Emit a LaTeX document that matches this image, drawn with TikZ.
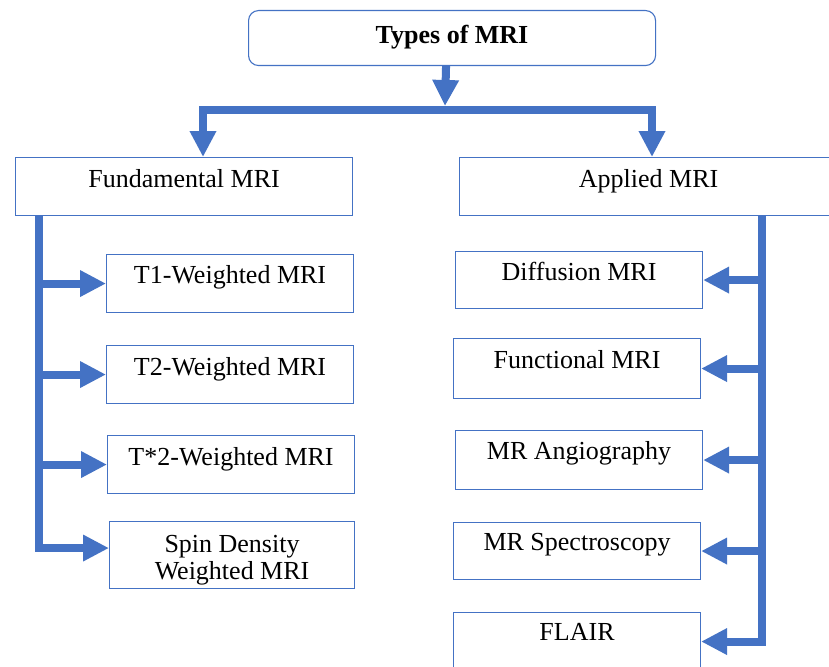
\documentclass[tikz,border=0pt]{standalone}
\usepackage{fontspec}
\setmainfont{Liberation Serif}
\usetikzlibrary{arrows.meta,calc}
\definecolor{mriblue}{HTML}{4472C4}
\begin{document}
\begin{tikzpicture}[x=1pt,y=-1pt,
  box/.style={draw=mriblue, line width=1.1pt, fill=white, inner sep=0pt,
    anchor=north west, font=\fontsize{26}{27}\selectfont, text=black},
  trunk/.style={draw=mriblue, line width=8pt, line join=miter},
  arr/.style={trunk, -{Triangle[length=26pt,width=25pt]}}
]
\clip (0,0) rectangle (829,666);
\fill[white] (0,0) rectangle (829,666);

% root
\node[box, rounded corners=10pt, minimum width=407pt, text height=33pt, text depth=22pt,
  font=\fontsize{26}{27}\selectfont\bfseries] (root) at (248,10) {Types of MRI};

% two main groups
\node[box, minimum width=337pt, text height=30pt, text depth=28pt] (fund) at (15,157) {Fundamental MRI};
\node[box, minimum width=378pt, text height=30pt, text depth=28pt] (appl) at (459,157) {Applied MRI};

% fundamental sequences
\node[box, minimum width=247pt, text height=29pt, text depth=29pt] (t1) at (106,254) {T1-Weighted MRI};
\node[box, minimum width=247pt, text height=30pt, text depth=28pt] (t2) at (106,345) {T2-Weighted MRI};
\node[box, minimum width=247pt, text height=30pt, text depth=28pt] (t2s) at (107,435) {T*2-Weighted MRI};
% two-line label: baseline sits on the last line
\node[box, minimum width=245pt, text height=58pt, text depth=9pt, align=center] (spin) at (109,521) {Spin Density\\[0pt]Weighted MRI};

% applied techniques
\node[box, minimum width=247pt, text height=29pt, text depth=28pt] (diff) at (455,251) {Diffusion MRI};
\node[box, minimum width=247pt, text height=30pt, text depth=30pt] (func) at (453,338) {Functional MRI};
\node[box, minimum width=247pt, text height=29pt, text depth=30pt] (angio) at (455,430) {MR Angiography};
\node[box, minimum width=247pt, text height=28pt, text depth=29pt] (spec) at (453,522) {MR Spectroscopy};
\node[box, minimum width=247pt, text height=28pt, text depth=30pt] (flair) at (453,612) {FLAIR};

% branching bar under the root
\coordinate (rootout) at ($(root.south)+(-6,0)$);
\coordinate (bar) at (445,106);
\coordinate (bl) at (203,110);
\coordinate (br) at (652,110);
\draw[arr] (rootout) -- (bar);
\draw[arr] ($(br)+(4,0)$) -- (bl) -- (bl |- fund.north);
\draw[arr] ($(bl)+(-4,0)$) -- (br) -- (br |- appl.north);

% left spine
\coordinate (lsp) at (39,0);
\coordinate (spinin) at ($(spin.west)+(0,-7)$);
\draw[arr] (fund.south -| lsp) |- (spinin);
\draw[arr] (lsp |- t1.west) -- (t1.west);
\draw[arr] (lsp |- t2.west) -- (t2.west);
\draw[arr] (lsp |- t2s.west) -- (t2s.west);

% right spine
\coordinate (rsp) at (762,0);
\draw[arr] (appl.south -| rsp) |- (flair.east);
\draw[arr] (rsp |- diff.east) -- (diff.east);
\draw[arr] (rsp |- func.east) -- (func.east);
\draw[arr] (rsp |- angio.east) -- (angio.east);
\draw[arr] (rsp |- spec.east) -- (spec.east);
\end{tikzpicture}
\end{document}
